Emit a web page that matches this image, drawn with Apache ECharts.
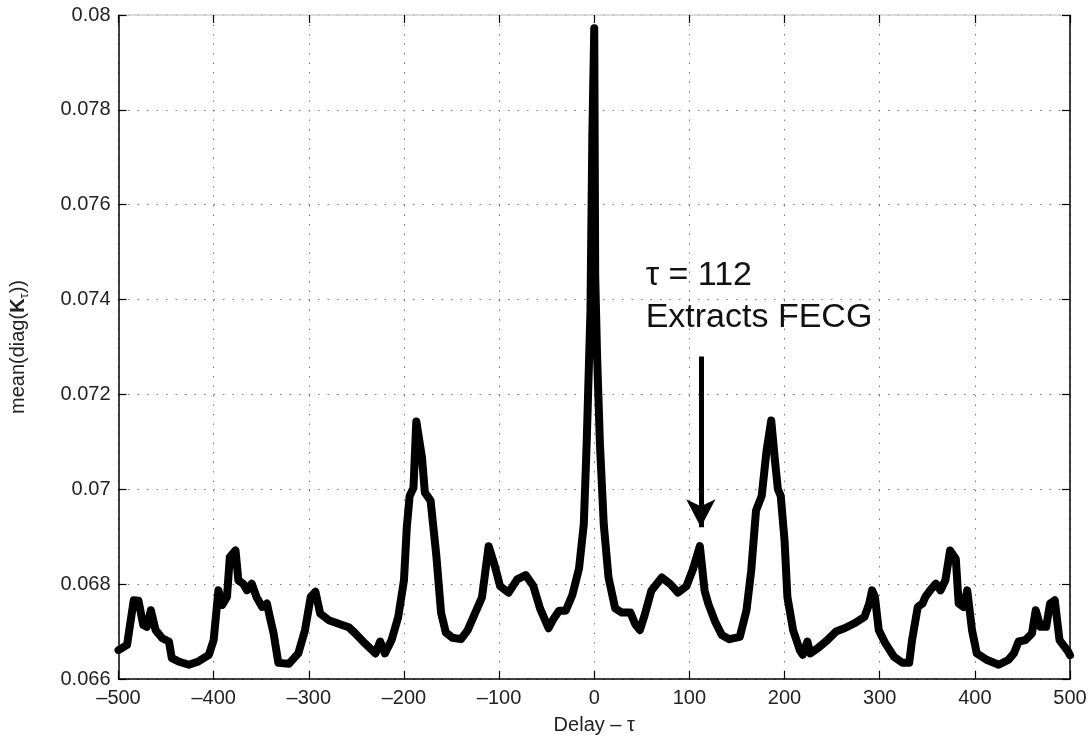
<!DOCTYPE html>
<html>
<head>
<meta charset="utf-8">
<script src="https://cdn.jsdelivr.net/npm/echarts@6/dist/echarts.min.js"></script>
<style>
html,body{margin:0;padding:0;background:#fff;}
#chart{width:1092px;height:740px;}
</style>
</head>
<body>
<div id="chart"></div>
<script>
// Delay values (tau)
const delays = [-500,-491,-484,-479,-474,-470,-466,-461,-454,-447,-444,-437,-426,-416,-405,-400,-395,-391,-386,-383,-377,-374,-369,-365,-360,-355,-349,-344,-341,-337,-332,-321,-311,-304,-298,-293,-288,-279,-265,-258,-251,-241,-230,-225,-220,-213,-206,-200,-197,-194,-190,-187,-185,-181,-178,-172,-166,-161,-156,-149,-140,-133,-125,-118,-111,-105,-99,-90,-81,-72,-64,-57,-48,-43,-37,-30,-23,-16,-11,-8,-4,-2,0,1,3,6,10,15,22,29,38,43,48,53,60,71,80,88,97,104,111,116,120,127,134,142,153,160,165,170,176,181,186,190,193,196,200,203,209,216,219,224,227,235,245,254,263,273,284,289,292,295,299,306,315,324,331,334,340,345,348,353,359,364,369,374,380,383,388,392,397,402,413,425,435,441,446,453,460,464,469,475,479,484,489,498,500];
// mean(diag(K_tau)) values
const meanDiag = [0.06661,0.06672,0.06766,0.06765,0.06714,0.0671,0.06745,0.06703,0.06686,0.06679,0.06644,0.06637,0.0663,0.06637,0.06651,0.06682,0.06787,0.06756,0.06773,0.06857,0.06871,0.06808,0.06801,0.06787,0.06801,0.06773,0.06752,0.06759,0.06731,0.06696,0.06634,0.06632,0.06654,0.06703,0.06773,0.06784,0.06738,0.06724,0.06714,0.06709,0.06696,0.06675,0.06654,0.06679,0.06654,0.06682,0.06731,0.06808,0.0692,0.06986,0.07003,0.07143,0.0714,0.07066,0.06993,0.06976,0.06861,0.0674,0.06698,0.06687,0.06684,0.06703,0.0674,0.06772,0.0688,0.06842,0.06796,0.06782,0.0681,0.06819,0.06796,0.06749,0.06707,0.06726,0.06744,0.06744,0.06777,0.06833,0.06926,0.07094,0.07374,0.07746,0.07972,0.0745,0.0728,0.07094,0.06926,0.06814,0.06749,0.0674,0.0674,0.06716,0.06703,0.06735,0.06786,0.06814,0.068,0.06782,0.06796,0.06833,0.0688,0.06786,0.06758,0.06721,0.06693,0.06684,0.06689,0.06745,0.06829,0.06955,0.06986,0.0708,0.07145,0.07059,0.07,0.06986,0.06892,0.06773,0.06703,0.06661,0.06651,0.06679,0.06654,0.06665,0.06682,0.067,0.06707,0.06717,0.06731,0.06759,0.06787,0.06773,0.06703,0.06675,0.06647,0.06634,0.06634,0.06682,0.06752,0.06759,0.06773,0.06787,0.06801,0.06787,0.06808,0.06871,0.06853,0.06759,0.06752,0.06787,0.06703,0.06654,0.0664,0.0663,0.0664,0.06654,0.06679,0.06682,0.06696,0.06745,0.0671,0.0671,0.06759,0.06766,0.06682,0.06658,0.0665];

const xTicks = {min: -500, max: 500, step: 100};
const yTicks = {min: 0.066, max: 0.08, step: 0.002};

const annotation = {tau: 112, arrowTop: 0.0728, arrowTip: 0.0692, line1: 'τ = 112', line2: 'Extracts FECG'};

const seriesData = delays.map((d, i) => [d, meanDiag[i]]);

const FONT = '"Liberation Sans", Arial, Helvetica, sans-serif';
const chart = echarts.init(document.getElementById('chart'), null, {renderer: 'canvas'});

const dotted = {color: '#777', width: 1, type: [1.5, 8]};

chart.setOption({
  animation: false,
  backgroundColor: '#fff',
  grid: {left: 117, right: 22, top: 15, bottom: 57, containLabel: false},
  xAxis: [{
    type: 'value', min: xTicks.min, max: xTicks.max, interval: xTicks.step,
    position: 'bottom',
    axisLine: {show: true, onZero: false, lineStyle: {color: '#000', width: 1.5}},
    axisTick: {show: true, inside: true, length: 8, lineStyle: {color: '#000', width: 1.2}},
    axisLabel: {color: '#222', fontSize: 20, fontFamily: FONT, margin: 9,
      formatter: v => String(v).replace('-', '\u2013')},
    splitLine: {show: true, lineStyle: dotted},
    name: 'Delay \u2013 \u03c4', nameLocation: 'middle', nameGap: 36,
    nameTextStyle: {color: '#222', fontSize: 20, fontFamily: FONT}
  }, {
    type: 'value', min: xTicks.min, max: xTicks.max, interval: xTicks.step,
    position: 'top',
    axisLine: {show: true, onZero: false, lineStyle: {color: '#d0d0d0', width: 1.5}},
    axisTick: {show: true, inside: true, length: 8, lineStyle: {color: '#000', width: 1.2}},
    axisLabel: {show: false}, splitLine: {show: false}
  }],
  yAxis: [{
    type: 'value', min: yTicks.min, max: yTicks.max, interval: yTicks.step,
    position: 'left',
    axisLine: {show: true, onZero: false, lineStyle: {color: '#000', width: 1.5}},
    axisTick: {show: true, inside: true, length: 8, lineStyle: {color: '#000', width: 1.2}},
    axisLabel: {color: '#222', fontSize: 20, fontFamily: FONT, margin: 8,
      formatter: v => String(parseFloat(v.toFixed(3)))},
    splitLine: {show: true, lineStyle: dotted},
    name: '{a|mean(diag(}{b|K}{s|\u03c4}{a|))}', nameLocation: 'middle', nameGap: 88,
    nameTextStyle: {color: '#222', fontSize: 20, fontFamily: FONT,
      rich: {
        a: {fontSize: 20, fontFamily: FONT, color: '#222'},
        b: {fontSize: 20, fontFamily: FONT, color: '#222', fontWeight: 'bold'},
        s: {fontSize: 13, fontFamily: FONT, color: '#222', padding: [12, 0, 0, 0]}
      }}
  }, {
    type: 'value', min: yTicks.min, max: yTicks.max, interval: yTicks.step,
    position: 'right',
    axisLine: {show: true, onZero: false, lineStyle: {color: '#000', width: 1.5}},
    axisTick: {show: true, inside: true, length: 8, lineStyle: {color: '#000', width: 1.2}},
    axisLabel: {show: false}, splitLine: {show: false}
  }],
  series: [{
    type: 'line',
    data: seriesData,
    showSymbol: false,
    smooth: false,
    lineStyle: {color: '#000', width: 8, join: 'round', cap: 'round'},
    markLine: {
      silent: true,
      symbol: ['none', 'arrow'],
      symbolSize: [22, 28],
      label: {show: false},
      lineStyle: {color: '#000', width: 5, type: 'solid'},
      data: [[{coord: [annotation.tau, annotation.arrowTop]}, {coord: [annotation.tau, annotation.arrowTip]}]]
    }
  }]
});

const p1 = chart.convertToPixel({xAxisIndex: 0, yAxisIndex: 0}, [54, 0.0745]);
const p2 = chart.convertToPixel({xAxisIndex: 0, yAxisIndex: 0}, [54, 0.07362]);
chart.setOption({
  graphic: [
    {type: 'text', x: p1[0], y: p1[1], style: {text: annotation.line1, font: '34px ' + FONT, fill: '#111', textVerticalAlign: 'middle'}},
    {type: 'text', x: p2[0], y: p2[1], style: {text: annotation.line2, font: '34px ' + FONT, fill: '#111', textVerticalAlign: 'middle'}}
  ]
});
</script>
</body>
</html>
